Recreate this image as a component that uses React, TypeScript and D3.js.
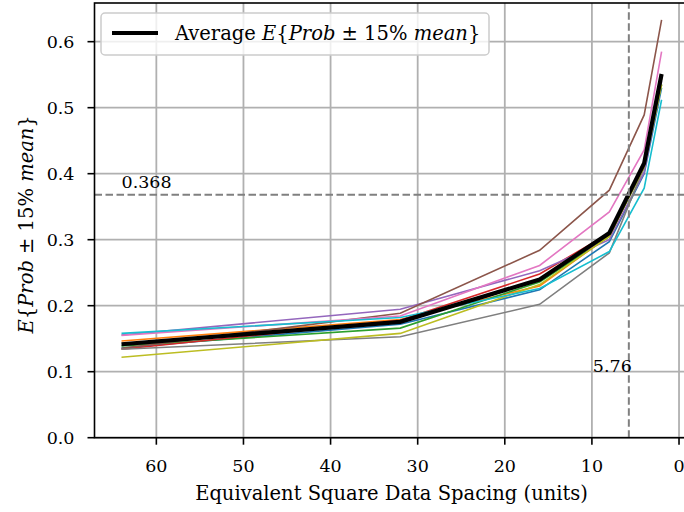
import React from "react";
import * as d3 from "d3";

const spacing = [64, 32, 16, 8, 4, 2];
const seriesBlue = [0.136, 0.172, 0.224, 0.297, 0.4, 0.53];
const seriesOrange = [0.1465, 0.179, 0.23, 0.306, 0.41, 0.545];
const seriesGreen = [0.139, 0.166, 0.236, 0.305, 0.41, 0.535];
const seriesRed = [0.134, 0.178, 0.248, 0.31, 0.415, 0.55];
const seriesPurple = [0.1556, 0.1945, 0.253, 0.3, 0.402, 0.54];
const seriesBrown = [0.1355, 0.1885, 0.284, 0.375, 0.489, 0.633];
const seriesPink = [0.155, 0.1844, 0.261, 0.342, 0.436, 0.585];
const seriesGray = [0.134, 0.153, 0.202, 0.28, 0.41, 0.545];
const seriesOlive = [0.1218, 0.158, 0.232, 0.305, 0.41, 0.535];
const seriesCyan = [0.158, 0.182, 0.226, 0.282, 0.378, 0.512];

const allSeries = [
  seriesBlue, seriesOrange, seriesGreen, seriesRed, seriesPurple,
  seriesBrown, seriesPink, seriesGray, seriesOlive, seriesCyan,
];
const colors = d3.schemeCategory10;

const xTicks = [60, 50, 40, 30, 20, 10, 0];
const yTicks = [0, 0.1, 0.2, 0.3, 0.4, 0.5, 0.6];
const hLineValue = 0.368;
const vLineValue = 5.76;

const W = 684;
const H = 512;
const FONT = "'DejaVu Serif', serif";
const FS = 17.5;
const FL = 19.5;

export default function App() {
  const x = d3.scaleLinear().domain([67.1, -1.1]).range([94.5, 688.6]);
  const y = d3.scaleLinear().domain([0, 0.6586]).range([437.7, 3]);
  const [x0, x1] = x.range();
  const [y0, y1] = y.range();

  const avg = spacing.map((_, i) => d3.mean(allSeries, (s) => s[i]) as number);

  const line = d3
    .line<number>()
    .x((_, i) => x(spacing[i]))
    .y((d) => y(d));

  const grid = "#b0b0b0";

  return (
    <svg
      width={W}
      height={H}
      style={{ position: "absolute", left: 0, top: 0, background: "#fff" }}
      fontFamily={FONT}
    >
      <defs>
        <clipPath id="plot">
          <rect x={x0} y={y1} width={x1 - x0} height={y0 - y1} />
        </clipPath>
      </defs>
      {xTicks.map((t) => (
        <line key={"gx" + t} x1={x(t)} x2={x(t)} y1={y0} y2={y1} stroke={grid} strokeWidth={1.8} />
      ))}
      {yTicks.map((t) => (
        <line key={"gy" + t} x1={x0} x2={x1} y1={y(t)} y2={y(t)} stroke={grid} strokeWidth={1.8} />
      ))}
      <g clipPath="url(#plot)">
        {allSeries.map((s, i) => (
          <path key={i} d={line(s) as string} fill="none" stroke={colors[i]} strokeWidth={1.6} />
        ))}
        <path d={line(avg) as string} fill="none" stroke="#000" strokeWidth={4.2} />
        <line x1={x0} x2={x1} y1={y(hLineValue)} y2={y(hLineValue)} stroke="#808080" strokeWidth={2} strokeDasharray="7.5,3.5" />
        <line x1={x(vLineValue)} x2={x(vLineValue)} y1={y0} y2={y1} stroke="#808080" strokeWidth={2} strokeDasharray="7.5,3.5" />
      </g>
      <text x={x(64)} y={y(0.38) + 1} fontSize={FS} fill="#000">{String(hLineValue)}</text>
      <text x={x(vLineValue) + 3} y={y(0.1)} fontSize={FS} fill="#000" textAnchor="end">{String(vLineValue)}</text>
      <rect x={x0} y={y1} width={x1 - x0} height={y0 - y1} fill="none" stroke="#000" strokeWidth={1.6} />
      {xTicks.map((t) => (
        <g key={"xt" + t}>
          <line x1={x(t)} x2={x(t)} y1={y0} y2={y0 + 7} stroke="#000" strokeWidth={1.6} />
          <text x={x(t)} y={y0 + 34} fontSize={FS} textAnchor="middle" fill="#000">{String(t)}</text>
        </g>
      ))}
      {yTicks.map((t) => (
        <g key={"yt" + t}>
          <line x1={x0 - 7} x2={x0} y1={y(t)} y2={y(t)} stroke="#000" strokeWidth={1.6} />
          <text x={x0 - 20} y={y(t) + 6.5} fontSize={FS} textAnchor="end" fill="#000">{t.toFixed(1)}</text>
        </g>
      ))}
      <text x={(x0 + x1) / 2} y={500} fontSize={FL} textAnchor="middle" fill="#000">
        Equivalent Square Data Spacing (units)
      </text>
      <text transform={`translate(33,${(y0 + y1) / 2 + 4}) rotate(-90)`} fontSize={FL} textAnchor="middle" fill="#000">
        <tspan fontStyle="italic">E</tspan>
        <tspan>{"{"}</tspan>
        <tspan fontStyle="italic">Prob</tspan>
        <tspan>{" ± 15% "}</tspan>
        <tspan fontStyle="italic">mean</tspan>
        <tspan>{"}"}</tspan>
      </text>
      <rect x={101} y={13} width={388} height={42} rx={4} fill="#fff" fillOpacity={0.8} stroke="#cccccc" strokeWidth={1.5} />
      <line x1={112} x2={158} y1={33} y2={33} stroke="#000" strokeWidth={4} />
      <text x={175} y={40} fontSize={FL} fill="#000">
        <tspan>Average </tspan>
        <tspan fontStyle="italic">E</tspan>
        <tspan>{"{"}</tspan>
        <tspan fontStyle="italic">Prob</tspan>
        <tspan>{" ± 15% "}</tspan>
        <tspan fontStyle="italic">mean</tspan>
        <tspan>{"}"}</tspan>
      </text>
    </svg>
  );
}
